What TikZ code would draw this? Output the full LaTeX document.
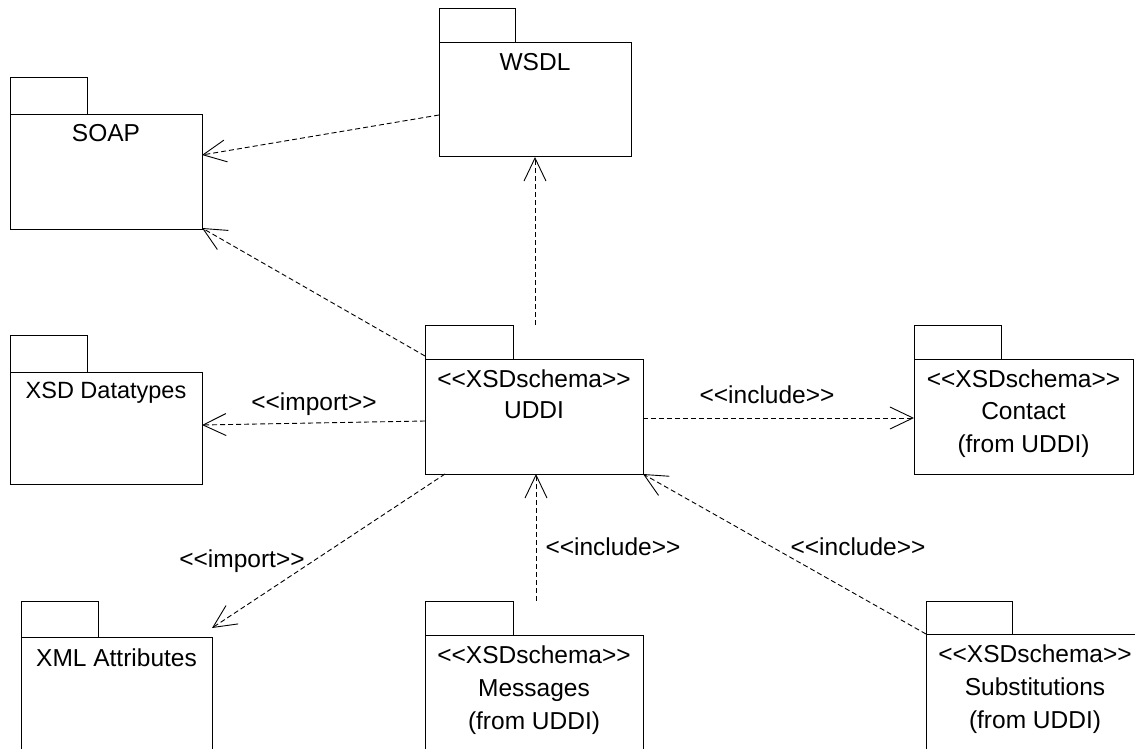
\documentclass[tikz,border=0pt]{standalone}
\usepackage{fontspec}
\setmainfont{Liberation Sans}[Ligatures=TeXOff]
\usetikzlibrary{arrows.meta,calc}
\begin{document}
\begin{tikzpicture}[x=1pt,y=-1pt,
  pkgbody/.style={draw=black,line width=1pt,fill=white,inner sep=0pt,outer sep=0pt,anchor=north west},
  pkgtab/.style={draw=black,line width=1pt,fill=white,inner sep=0pt,outer sep=0pt,anchor=south west},
  txt/.style={font=\fontsize{24.5}{30}\selectfont,inner sep=0pt,anchor=base},
  dep/.style={draw=black,line width=0.9pt,dash pattern=on 5pt off 3pt,
    -{Straight Barb[length=23pt,width=22pt,line width=0.9pt]}}]
\useasboundingbox (0,0) rectangle (1135,749);
\clip (0,0) rectangle (1135,749);
\fill[white] (0,0) rectangle (1135,749);

% SOAP
\node[pkgbody,minimum width=192pt,minimum height=114pt] (soap) at (10,115) {};
\node[pkgtab,minimum width=77pt,minimum height=37pt] (soap-tab) at (soap.north west) {};
\node[txt] (soap-name) at ($(soap.north)+(0,27)$) {SOAP};

% WSDL
\node[pkgbody,minimum width=192pt,minimum height=114pt] (wsdl) at (439,43) {};
\node[pkgtab,minimum width=76pt,minimum height=34pt] (wsdl-tab) at (wsdl.north west) {};
\node[txt] (wsdl-name) at ($(wsdl.north)+(0,28)$) {WSDL};

% XSD Datatypes
\node[pkgbody,minimum width=192pt,minimum height=112pt] (xsd) at (10,372) {};
\node[pkgtab,minimum width=77pt,minimum height=37pt] (xsd-tab) at (xsd.north west) {};
\node[txt,font=\fontsize{23.5}{30}\selectfont] (xsd-name) at ($(xsd.north)+(0,26)$) {XSD Datatypes};

% UDDI
\node[pkgbody,minimum width=218pt,minimum height=115pt] (uddi) at (425,359) {};
\node[pkgtab,minimum width=88pt,minimum height=34pt] (uddi-tab) at (uddi.north west) {};
\node[txt] (uddi-st) at ($(uddi.north)+(0,28)$) {<<XSDschema>>};
\node[txt] (uddi-name) at ($(uddi.north)+(0,59)$) {UDDI};

% Contact
\node[pkgbody,minimum width=219pt,minimum height=115pt] (contact) at (914,359) {};
\node[pkgtab,minimum width=87pt,minimum height=34pt] (contact-tab) at (contact.north west) {};
\node[txt] (contact-st) at ($(contact.north)+(0,28)$) {<<XSDschema>>};
\node[txt] (contact-name) at ($(contact.north)+(0,60)$) {Contact};
\node[txt] (contact-from) at ($(contact.north)+(0,93)$) {(from UDDI)};

% XML Attributes
\node[pkgbody,minimum width=191pt,minimum height=130pt] (xml) at (21,637) {};
\node[pkgtab,minimum width=77pt,minimum height=36pt] (xml-tab) at (xml.north west) {};
\node[txt] (xml-name) at ($(xml.north)+(0,29)$) {XML Attributes};

% Messages
\node[pkgbody,minimum width=218pt,minimum height=130pt] (msg) at (425,635) {};
\node[pkgtab,minimum width=88pt,minimum height=34pt] (msg-tab) at (msg.north west) {};
\node[txt] (msg-st) at ($(msg.north)+(0,28)$) {<<XSDschema>>};
\node[txt] (msg-name) at ($(msg.north)+(0,61)$) {Messages};
\node[txt] (msg-from) at ($(msg.north)+(0,94)$) {(from UDDI)};

% Substitutions
\node[pkgbody,minimum width=218pt,minimum height=130pt] (subst) at (926,634) {};
\node[pkgtab,minimum width=86pt,minimum height=33pt] (subst-tab) at (subst.north west) {};
\node[txt] (subst-st) at ($(subst.north)+(0,28)$) {<<XSDschema>>};
\node[txt] (subst-name) at ($(subst.north)+(0,61)$) {Substitutions};
\node[txt] (subst-from) at ($(subst.north)+(0,94)$) {(from UDDI)};

% connectors
\draw[dep] ($(wsdl.north west)+(0,72)$) -- ($(soap.north east)+(0,40)$);
\draw[dep] ($(uddi.north west)+(0,-3)$) -- ($(soap.south east)+(0,-1)$);
\draw[dep] (wsdl.south |- uddi-tab.north) -- (wsdl.south);
\draw[dep] ($(uddi.north west)+(0,62)$) -- ($(xsd.north east)+(0,53)$);
\draw[dep] ($(uddi.north east)+(0,59)$) -- ($(contact.north west)+(0,59)$);
\draw[dep] ($(uddi.south west)+(20,0)$) -- ($(xml.north east)+(0,-9)$);
\draw[dep] ($(uddi.south |- msg-tab.north)+(2,0)$) -- ($(uddi.south)+(2,0)$);
\draw[dep] (subst.north west) -- (uddi.south east);

% labels
\node[txt] (imp-xsd) at (314,410) {<<import>>};
\node[txt] (inc-contact) at (767,403) {<<include>>};
\node[txt] (imp-xml) at (242,567) {<<import>>};
\node[txt] (inc-msg) at (613,555) {<<include>>};
\node[txt] (inc-subst) at (858,555) {<<include>>};
\end{tikzpicture}
\end{document}
